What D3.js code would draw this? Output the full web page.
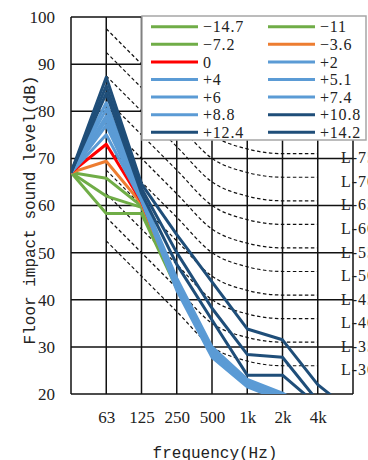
<!DOCTYPE html>
<html>
<head>
<meta charset="utf-8">
<script src="https://cdn.jsdelivr.net/npm/d3@7"></script>
<style>
  body { margin: 0; background: #fff; }
  text { fill: #222; }
</style>
</head>
<body>
<script>
// x positions: 0 = start point (no label), 1..7 = octave bands, 8 = end point (no label)
var freqLabels = ["63", "125", "250", "500", "1k", "2k", "4k"];
var yTicks = [20, 30, 40, 50, 60, 70, 80, 90, 100];

var seriesNames = ["\u221214.7", "\u221211", "\u22127.2", "\u22123.6", "0", "+2", "+4",
                   "+5.1", "+6", "+7.4", "+8.8", "+10.8", "+12.4", "+14.2"];

var m14_7 = [67, 58.3, 58.3, 42.4, 28.5, 21.9, 18.9, 12.5, 10];
var m11   = [67, 62.0, 59.6, 42.6, 28.6, 22.0, 19.0, 12.8, 10];
var m7_2  = [67, 65.8, 59.9, 42.7, 28.7, 22.1, 19.1, 13.0, 10];
var m3_6  = [67, 69.4, 60.4, 42.8, 28.2, 22.2, 19.2, 13.2, 10];
var z0    = [67, 73.0, 60.8, 42.9, 28.8, 22.3, 19.3, 13.5, 10];
var p2    = [67, 75.0, 61.0, 42.0, 27.8, 21.5, 18.6, 14.0, 10];
var p4    = [67, 77.0, 61.2, 42.5, 28.2, 21.8, 18.9, 14.5, 10];
var p5_1  = [67, 78.1, 61.4, 43.0, 28.7, 22.1, 19.2, 15.0, 10.5];
var p6    = [67, 79.0, 61.6, 43.6, 29.2, 22.4, 19.5, 15.3, 11];
var p7_4  = [67, 80.4, 61.8, 44.1, 29.6, 22.7, 19.8, 15.6, 11];
var p8_8  = [67, 81.8, 62.0, 44.6, 30.0, 23.1, 20.2, 16.0, 11.5];
var p10_8 = [67, 83.8, 62.6, 47.5, 35.7, 24.0, 24.0, 17.6, 12];
var p12_4 = [67, 85.4, 63.6, 50.0, 38.2, 28.4, 27.8, 18.5, 12.5];
var p14_2 = [67, 87.2, 64.6, 53.8, 43.8, 33.8, 31.5, 22.0, 16];

var seriesValues = [m14_7, m11, m7_2, m3_6, z0, p2, p4, p5_1, p6, p7_4, p8_8, p10_8, p12_4, p14_2];

// L-number reference curves, 63 Hz .. 4 kHz
var lNames = ["L-75", "L-70", "L-65", "L-60", "L-55", "L-50", "L-45", "L-40", "L-35", "L-30"];
var lCurves = [
  [97.5, 90, 82.5, 75, 72, 71, 71],
  [92.5, 85, 77.5, 70, 67, 66, 66],
  [87.5, 80, 72.5, 65, 62, 61, 61],
  [82.5, 75, 67.5, 60, 57, 56, 56],
  [77.5, 70, 62.5, 55, 52, 51, 51],
  [72.5, 65, 57.5, 50, 47, 46, 46],
  [67.5, 60, 52.5, 45, 42, 41, 41],
  [62.5, 55, 47.5, 40, 37, 36, 36],
  [57.5, 50, 42.5, 35, 32, 31, 31],
  [52.5, 45, 37.5, 30, 27, 26, 26]
];

var colors = ["#70ad47", "#70ad47", "#70ad47", "#ed7d31", "#ff0000",
              "#5b9bd5", "#5b9bd5", "#5b9bd5", "#5b9bd5", "#5b9bd5", "#5b9bd5",
              "#1f4e79", "#1f4e79", "#1f4e79"];

var svgWidth = 368;
var svgHeight = 460;
var margin = { top: 17, right: 15, bottom: 66, left: 71 };
var width = svgWidth - margin.left - margin.right;
var height = svgHeight - margin.top - margin.bottom;

var serif = "'Liberation Serif', 'DejaVu Serif', serif";
var mono = "'Liberation Mono', 'DejaVu Sans Mono', monospace";

var svg = d3.select("body")
  .append("svg")
  .attr("width", svgWidth)
  .attr("height", svgHeight);

svg.append("rect").attr("width", svgWidth).attr("height", svgHeight).attr("fill", "#fff");

var chartGroup = svg.append("g")
  .attr("transform", `translate(${margin.left}, ${margin.top})`);

var xScale = d3.scaleLinear().domain([0, 8]).range([0, width]);
var yScale = d3.scaleLinear().domain([20, 100]).range([height, 0]);

chartGroup.append("clipPath").attr("id", "plot-clip")
  .append("rect").attr("width", width).attr("height", height);

// grid
chartGroup.append("g").selectAll("line")
  .data(d3.range(0, 9))
  .enter().append("line")
  .attr("x1", d => xScale(d)).attr("x2", d => xScale(d))
  .attr("y1", 0).attr("y2", height)
  .attr("stroke", "#111").attr("stroke-width", 1.5);

chartGroup.append("g").selectAll("line")
  .data(yTicks)
  .enter().append("line")
  .attr("x1", 0).attr("x2", width)
  .attr("y1", d => yScale(d)).attr("y2", d => yScale(d))
  .attr("stroke", "#111").attr("stroke-width", 1.5);

// L curves
var lLine = d3.line()
  .x((d, i) => xScale(i + 1))
  .y(d => yScale(d))
  .curve(d3.curveMonotoneX);

chartGroup.append("g").attr("clip-path", "url(#plot-clip)")
  .selectAll("path")
  .data(lCurves)
  .enter().append("path")
  .attr("d", d => lLine(d))
  .attr("fill", "none")
  .attr("stroke", "#111")
  .attr("stroke-width", 1.2)
  .attr("stroke-dasharray", "3.5,2.5");

// measured lines
var dataLine = d3.line()
  .x((d, i) => xScale(i))
  .y(d => yScale(d));

chartGroup.append("g").attr("clip-path", "url(#plot-clip)")
  .selectAll("path")
  .data(seriesValues)
  .enter().append("path")
  .attr("d", d => dataLine(d))
  .attr("fill", "none")
  .attr("stroke", (d, i) => colors[i])
  .attr("stroke-width", 3)
  .attr("stroke-linejoin", "round");

// L labels (run off the right edge, as in the source)
chartGroup.append("g").selectAll("text")
  .data(lCurves)
  .enter().append("text")
  .attr("x", width - 12)
  .attr("y", d => yScale(d[6]) + 4)
  .attr("dy", "0.35em")
  .attr("font-family", serif)
  .attr("font-size", 16)
  .attr("letter-spacing", 1)
  .text((d, i) => lNames[i]);

// axes
var leftAxis = d3.axisLeft(yScale).tickValues(yTicks).tickSize(0).tickPadding(16);
var bottomAxis = d3.axisBottom(xScale)
  .tickValues(d3.range(1, 8))
  .tickFormat(d => freqLabels[d - 1])
  .tickSize(0).tickPadding(17);

var yAxisG = chartGroup.append("g").call(leftAxis);
var xAxisG = chartGroup.append("g").attr("transform", `translate(0, ${height})`).call(bottomAxis);
[yAxisG, xAxisG].forEach(function(g) {
  g.select(".domain").remove();
  g.attr("font-family", serif).attr("font-size", 17);
  g.selectAll("text").attr("fill", "#222");
});

// legend
var legend = svg.append("g");
legend.append("rect")
  .attr("x", 142).attr("y", 16).attr("width", 224).attr("height", 124)
  .attr("fill", "#fff").attr("stroke", "#a6a6a6").attr("stroke-width", 1.5);

var legendItems = legend.selectAll("g.item")
  .data(seriesNames)
  .enter().append("g")
  .attr("class", "item")
  .attr("transform", (d, i) => `translate(${i % 2 === 0 ? 151 : 268}, ${26.7 + Math.floor(i / 2) * 17.6})`);

legendItems.append("line")
  .attr("x1", 0).attr("x2", 47)
  .attr("stroke", (d, i) => colors[i])
  .attr("stroke-width", 3);

legendItems.append("text")
  .attr("x", 52)
  .attr("dy", "0.35em")
  .attr("font-family", serif)
  .attr("font-size", 16)
  .attr("letter-spacing", 0.8)
  .text(d => d);

// axis titles
svg.append("text")
  .attr("transform", "translate(29, 210) rotate(-90)")
  .attr("text-anchor", "middle")
  .attr("dy", "0.35em")
  .attr("font-family", mono)
  .attr("font-size", 16)
  .text("Floor impact sound level(dB)");

svg.append("text")
  .attr("x", 215)
  .attr("y", 452)
  .attr("text-anchor", "middle")
  .attr("dy", "0.35em")
  .attr("font-family", mono)
  .attr("font-size", 16)
  .text("frequency(Hz)");
</script>
</body>
</html>
